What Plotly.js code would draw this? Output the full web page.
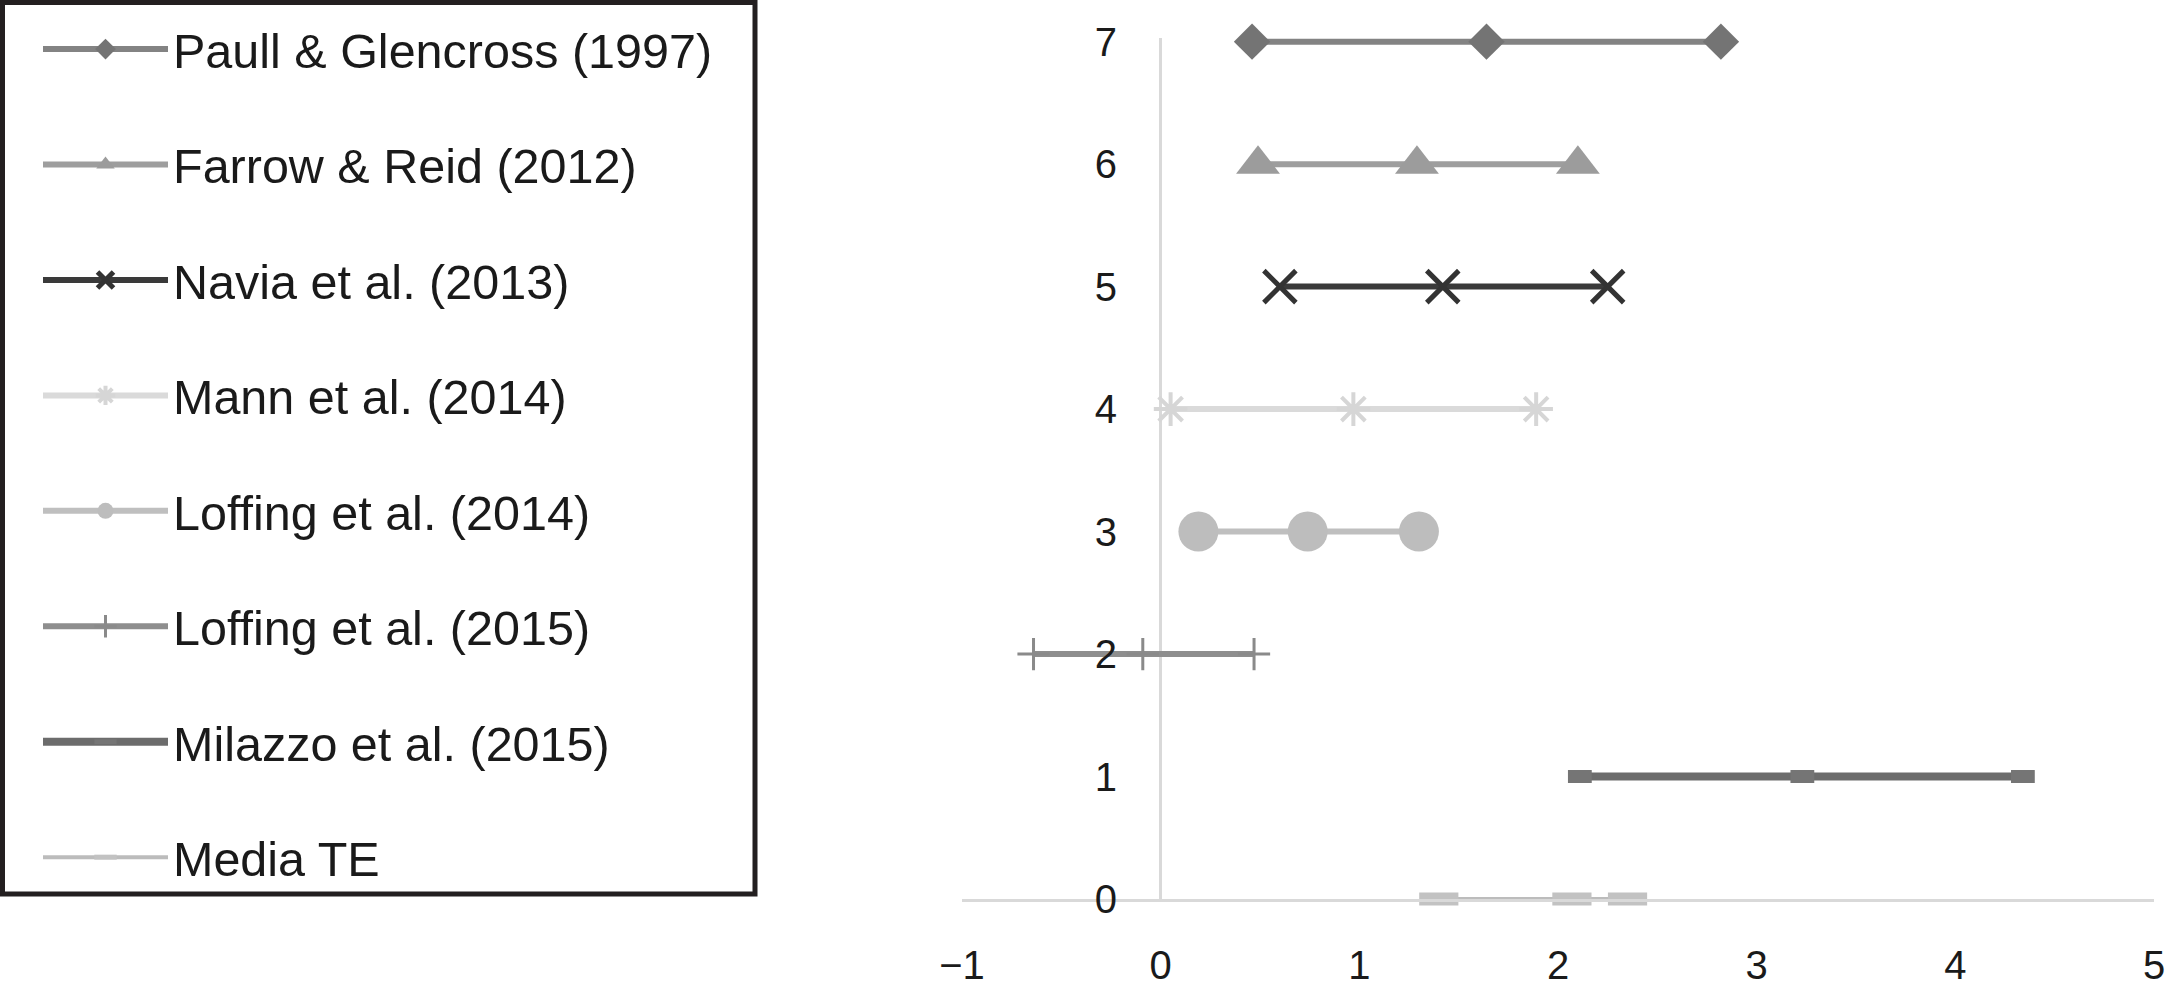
<!DOCTYPE html>
<html>
<head>
<meta charset="utf-8">
<script src="https://cdn.plot.ly/plotly-3.0.1.min.js"></script>
<style>
  html, body { margin: 0; padding: 0; background: #ffffff; }
  #chart { width: 2169px; height: 989px; }
</style>
</head>
<body>
<div id="chart"></div>
<script>
// ---------- data ----------
const seriesNames = [
  'Paull & Glencross (1997)',
  'Farrow & Reid (2012)',
  'Navia et al. (2013)',
  'Mann et al. (2014)',
  'Loffing et al. (2014)',
  'Loffing et al. (2015)',
  'Milazzo et al. (2015)',
  'Media TE'
];
const seriesLevels = [7, 6, 5, 4, 3, 2, 1, 0];

const paullX     = [0.46, 1.64, 2.82];
const farrowX    = [0.49, 1.29, 2.10];
const naviaX     = [0.60, 1.42, 2.25];
const mannX      = [0.05, 0.97, 1.89];
const loffing14X = [0.19, 0.74, 1.30];
const loffing15X = [-0.64, -0.09, 0.47];
const milazzoX   = [2.11, 3.23, 4.34];
const mediaX     = [1.40, 2.07, 2.35];

const seriesX = [paullX, farrowX, naviaX, mannX, loffing14X, loffing15X, milazzoX, mediaX];

const xTickVals = [-1, 0, 1, 2, 3, 4, 5];
const yTickVals = [0, 1, 2, 3, 4, 5, 6, 7];

// ---------- styles ----------
const styles = [
  { line: '#838383', lw: 6, sym: 'diamond',          mc: '#747474', ms: 28, mlw: 0 },
  { line: '#9e9e9e', lw: 6, sym: 'triangle-up',      mc: '#9c9c9c', ms: 38, mlw: 0 },
  { line: '#3a3a3a', lw: 6, sym: 'x-thin-open',      mc: '#333333', ms: 32, mlw: 5 },
  { line: '#dadada', lw: 6, sym: 'asterisk-open',    mc: '#d6d6d6', ms: 28, mlw: 4 },
  { line: '#bfbfbf', lw: 6, sym: 'circle',           mc: '#bdbdbd', ms: 40, mlw: 0 },
  { line: '#8e8e8e', lw: 6, sym: 'cross-thin-open',  mc: '#8a8a8a', ms: 23, mlw: 3 },
  { line: '#6c6c6c', lw: 8, sym: 'line-ew-open',     mc: '#757575', ms: 17, mlw: 13 },
  { line: '#bcbcbc', lw: 4, sym: 'line-ew-open',     mc: '#c2c2c2', ms: 28, mlw: 13 }
];

const W = 2169, H = 989;
const traces = seriesNames.map((name, i) => ({
  type: 'scatter',
  mode: 'lines+markers',
  name: name,
  legendgroup: 'g' + i,
  x: seriesX[i],
  y: seriesX[i].map(() => seriesLevels[i]),
  cliponaxis: false,
  line: { color: styles[i].line, width: styles[i].lw },
  marker: {
    symbol: styles[i].sym,
    color: styles[i].mc,
    size: styles[i].ms,
    line: { width: styles[i].mlw, color: styles[i].mc }
  },
  hoverinfo: 'skip'
}));

const tickFont = { family: 'Liberation Sans, Arial, sans-serif', size: 40, color: '#1a1a1a' };

const layout = {
  width: W,
  height: H,
  margin: { l: 0, r: 0, t: 0, b: 0, pad: 0 },
  paper_bgcolor: '#ffffff',
  plot_bgcolor: 'rgba(0,0,0,0)',
  showlegend: true,
  hovermode: false,
  xaxis: {
    domain: [962 / W, 2154 / W],
    range: [-1, 5],
    tickvals: xTickVals,
    ticks: '',
    showgrid: false,
    showline: true,
    linecolor: '#d9d9d9',
    linewidth: 3,
    zeroline: true,
    zerolinecolor: '#d9d9d9',
    zerolinewidth: 3,
    tickfont: tickFont,
    ticklabelstandoff: 29,
    anchor: 'y',
    fixedrange: true
  },
  yaxis: {
    domain: [(H - 899) / H, (H - 38) / H],
    range: [0, 7.03],
    tickvals: yTickVals,
    ticks: '',
    showgrid: false,
    showline: false,
    zeroline: false,
    tickfont: tickFont,
    anchor: 'free',
    position: 1117 / W,
    fixedrange: true
  },
  legend: {
    x: 38 / W, y: 1 - 11 / H, xanchor: 'left', yanchor: 'top',
    bgcolor: 'rgba(0,0,0,0)',
    borderwidth: 0,
    font: { family: 'Liberation Sans, Arial, sans-serif', size: 48.5, color: '#1a1a1a' },
    itemwidth: 125,
    traceorder: 'grouped',
    tracegroupgap: 49.4
  },
  shapes: [{
    type: 'rect', xref: 'paper', yref: 'paper',
    x0: 2.5 / W, x1: 755 / W, y0: 1 - 894 / H, y1: 1 - 2.5 / H,
    line: { color: '#231f20', width: 5 },
    fillcolor: 'rgba(0,0,0,0)',
    layer: 'above'
  }]
};

Plotly.newPlot('chart', traces, layout, { displayModeBar: false, staticPlot: true });
</script>
</body>
</html>
